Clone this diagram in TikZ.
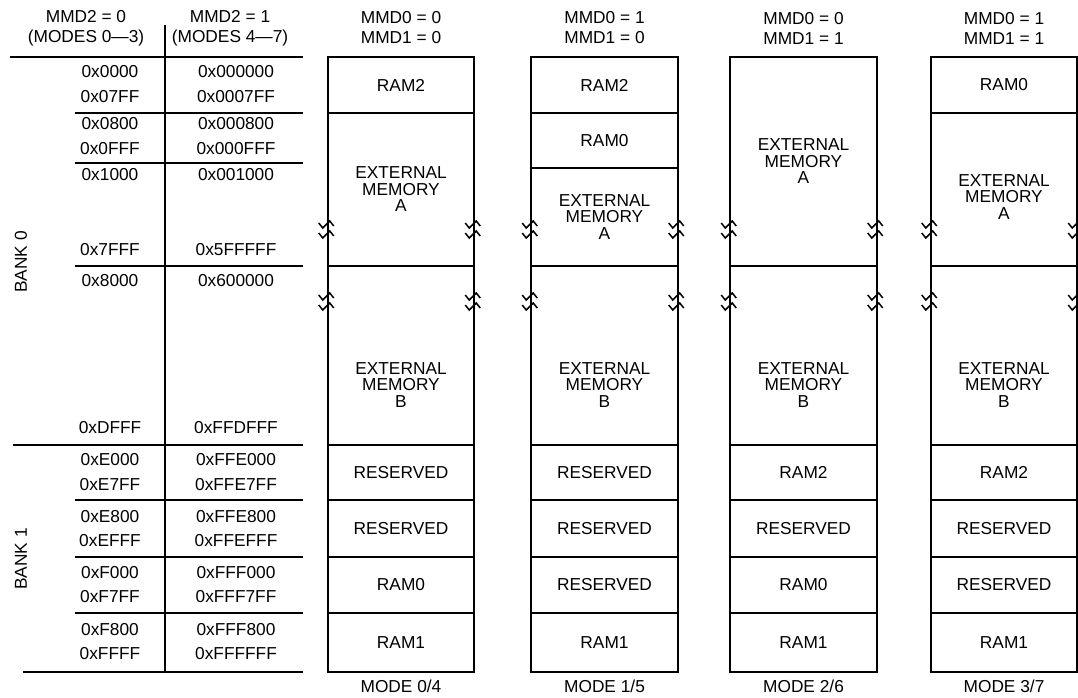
\documentclass[tikz,border=0pt]{standalone}
\usepackage{fontspec}
\setmainfont{Liberation Sans}
\tikzset{
  txt/.style={font=\fontsize{17.3}{16.5}\selectfont, align=center, inner sep=0pt},
  hdr/.style={font=\fontsize{17.3}{20}\selectfont, align=center, inner sep=0pt},
  rule/.style={line width=1.8pt},
  region/.style={draw, line width=1.8pt, minimum width=146.5pt, inner sep=0pt,
    font=\fontsize{17.3}{16.5}\selectfont, align=center},
  brk/.style={line width=1.5pt, line join=miter}
}
\begin{document}
\begin{tikzpicture}[x=1pt,y=-1pt]

  \fill[white] (0,0) rectangle (1078,698);
  \useasboundingbox (0,0) rectangle (1078,698);

  % address table
  \begin{scope}[every node/.style=hdr]
    \node (mmd2a) at (86,28) {MMD2 = 0\\(MODES 0—3)};
    \node (mmd2b) at (230,28) {MMD2 = 1\\(MODES 4—7)};
  \end{scope}

  \draw[rule] (10,57) -- (303,57);
  \draw[rule] (165,25) -- (165,672);
  \draw[rule] (13,445) -- (303,445);
  \draw[rule] (23,672) -- (303,672);
  \foreach \y in {113,163,266,500,557,613}
    \draw[rule] (75,\y) -- (303,\y);

  \foreach \y/\lo/\hi [count=\i] in {72/0x0000/0x000000, 97/0x07FF/0x0007FF,
      124/0x0800/0x000800, 149/0x0FFF/0x000FFF, 175/0x1000/0x001000,
      250/0x7FFF/0x5FFFFF, 281/0x8000/0x600000, 428/0xDFFF/0xFFDFFF,
      460/0xE000/0xFFE000, 485/0xE7FF/0xFFE7FF, 517/0xE800/0xFFE800,
      541/0xEFFF/0xFFEFFF, 573/0xF000/0xFFF000, 597/0xF7FF/0xFFF7FF,
      630/0xF800/0xFFF800, 654/0xFFFF/0xFFFFFF}
  {
    \node[txt] (lo\i) at (110,\y) {\lo};
    \node[txt] (hi\i) at (236,\y) {\hi};
  }

  \node[txt, rotate=90] (bank0) at (21,262) {BANK 0};
  \node[txt, rotate=90] (bank1) at (21,559) {BANK 1};

  % mode headers and footers
  \begin{scope}[every node/.style=hdr]
    \node (h1) at (401,28)   {MMD0 = 0\\MMD1 = 0};
    \node (h2) at (604.5,28) {MMD0 = 1\\MMD1 = 0};
    \node (h3) at (803.5,28) {MMD0 = 0\\MMD1 = 1};
    \node (h4) at (1004,28)  {MMD0 = 1\\MMD1 = 1};
    \node (f1) at (401,686)   {MODE 0/4};
    \node (f2) at (604.5,686) {MODE 1/5};
    \node (f3) at (803.5,686) {MODE 2/6};
    \node (f4) at (1004,686)  {MODE 3/7};
  \end{scope}

  % mode 0/4
  \node[region, minimum height=56pt]  (a1) at (401,85)    {RAM2};
  \node[region, minimum height=153pt] (a2) at (401,189.5) {EXTERNAL\\MEMORY\\A};
  \node[region, minimum height=179pt] (a3) at (401,355.5) {};
  \node[region, minimum height=55pt]  (a4) at (401,472.5) {RESERVED};
  \node[region, minimum height=57pt]  (a5) at (401,528.5) {RESERVED};
  \node[region, minimum height=56pt]  (a6) at (401,585)   {RAM0};
  \node[region, minimum height=59pt]  (a7) at (401,642.5) {RAM1};

  % mode 1/5
  \node[region, minimum height=56pt]  (b1) at (604.5,85)    {RAM2};
  \node[region, minimum height=55pt]  (b2) at (604.5,140.5) {RAM0};
  \node[region, minimum height=98pt]  (b3) at (604.5,217)   {EXTERNAL\\MEMORY\\A};
  \node[region, minimum height=179pt] (b4) at (604.5,355.5) {};
  \node[region, minimum height=55pt]  (b5) at (604.5,472.5) {RESERVED};
  \node[region, minimum height=57pt]  (b6) at (604.5,528.5) {RESERVED};
  \node[region, minimum height=56pt]  (b7) at (604.5,585)   {RESERVED};
  \node[region, minimum height=59pt]  (b8) at (604.5,642.5) {RAM1};

  % mode 2/6
  \node[region, minimum height=209pt] (c1) at (803.5,161.5) {EXTERNAL\\MEMORY\\A};
  \node[region, minimum height=179pt] (c2) at (803.5,355.5) {};
  \node[region, minimum height=55pt]  (c3) at (803.5,472.5) {RAM2};
  \node[region, minimum height=57pt]  (c4) at (803.5,528.5) {RESERVED};
  \node[region, minimum height=56pt]  (c5) at (803.5,585)   {RAM0};
  \node[region, minimum height=59pt]  (c6) at (803.5,642.5) {RAM1};

  % mode 3/7
  \node[region, minimum height=56pt]  (d1) at (1004,85)    {RAM0};
  \node[region, minimum height=153pt] (d2) at (1004,189.5) {};
  \node[region, minimum height=179pt] (d3) at (1004,355.5) {};
  \node[region, minimum height=55pt]  (d4) at (1004,472.5) {RAM2};
  \node[region, minimum height=57pt]  (d5) at (1004,528.5) {RESERVED};
  \node[region, minimum height=56pt]  (d6) at (1004,585)   {RESERVED};
  \node[region, minimum height=59pt]  (d7) at (1004,642.5) {RAM1};

  \begin{scope}[every node/.style=txt]
    \node (a3t) at (401,385)   {EXTERNAL\\MEMORY\\B};
    \node (b4t) at (604.5,385) {EXTERNAL\\MEMORY\\B};
    \node (c2t) at (803.5,385) {EXTERNAL\\MEMORY\\B};
    \node (d3t) at (1004,385)  {EXTERNAL\\MEMORY\\B};
    \node (d2t) at (1004,197)  {EXTERNAL\\MEMORY\\A};
  \end{scope}

  % break marks on the external memory edges
  \foreach \x in {327.75,474.25,531.25,677.75,730.25,876.75,930.75,1077.25}
    \foreach \y in {225,235,297,307}
      \draw[brk] (\x-9,\y-2) -- (\x-5,\y+3) -- (\x+2,\y-4) -- (\x+6,\y+1);

\end{tikzpicture}
\end{document}
